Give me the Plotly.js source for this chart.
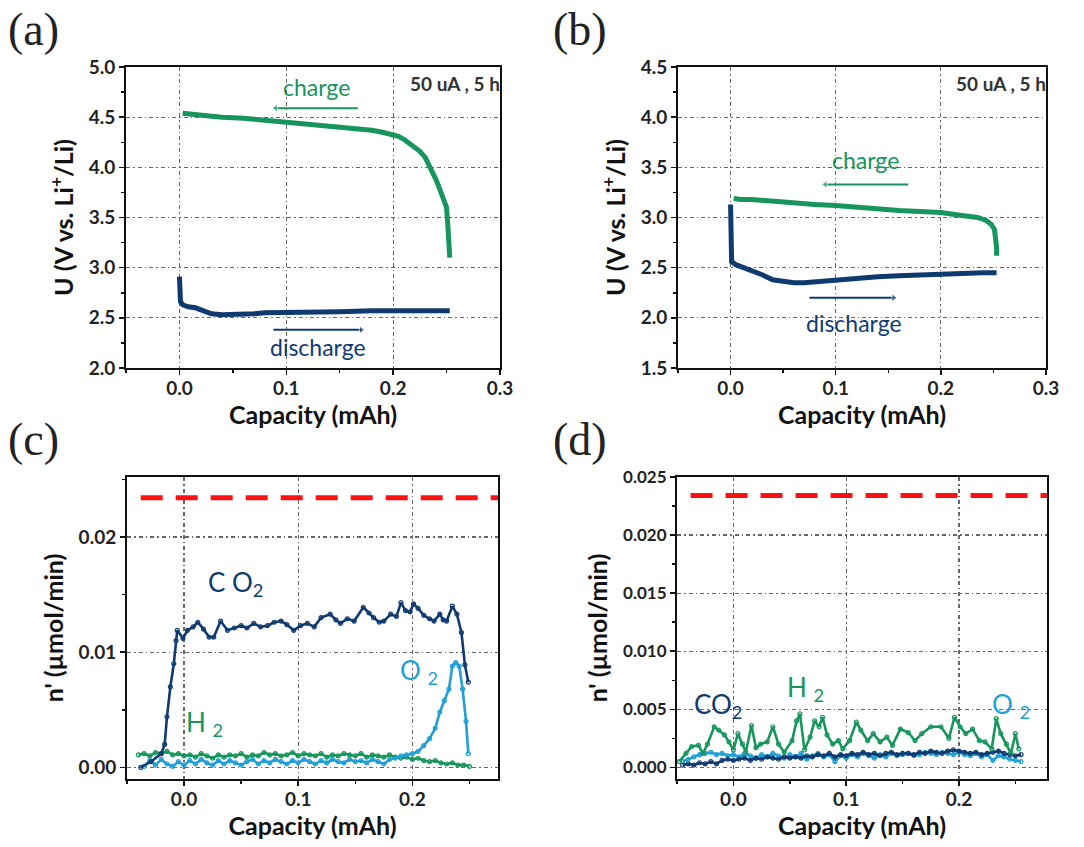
<!DOCTYPE html>
<html>
<head>
<meta charset="utf-8">
<script src="https://cdn.plot.ly/plotly-3.0.1.min.js"></script>
<style>body{margin:0;background:#fff}#chart{width:1084px;height:847px}</style>
</head>
<body>
<div id="chart"></div>
<script>
// ---------- Panel (a): 50 uA, 5 h ----------
const a_chg_x = [0.003,0.01,0.02,0.03,0.04,0.05,0.06,0.07,0.08,0.09,0.10,0.11,0.12,0.13,0.14,0.15,0.16,0.17,0.18,0.19,0.20,0.205,0.21,0.215,0.22,0.225,0.23,0.235,0.24,0.243,0.246,0.248,0.250,0.251,0.252,0.253];
const a_chg_y = [4.54,4.53,4.52,4.51,4.50,4.50,4.49,4.48,4.47,4.47,4.46,4.45,4.44,4.43,4.42,4.41,4.40,4.39,4.37,4.35,4.33,4.31,4.28,4.24,4.20,4.16,4.10,4.00,3.88,3.80,3.72,3.66,3.60,3.45,3.30,3.10];
const a_dis_x = [0.0,0.0,0.001,0.003,0.008,0.015,0.02,0.025,0.03,0.04,0.05,0.06,0.07,0.08,0.10,0.12,0.15,0.18,0.20,0.22,0.24,0.253];
const a_dis_y = [2.91,2.75,2.66,2.63,2.61,2.60,2.58,2.56,2.54,2.53,2.53,2.53,2.54,2.55,2.55,2.56,2.56,2.57,2.57,2.57,2.57,2.57];
const a_chg_arrow_x = [0.090,0.167];
const a_chg_arrow_y = [4.59,4.59];
const a_dis_arrow_x = [0.088,0.170];
const a_dis_arrow_y = [2.38,2.38];

// ---------- Panel (b) ----------
const b_chg_x = [0.003,0.01,0.02,0.04,0.06,0.08,0.10,0.12,0.14,0.16,0.18,0.20,0.22,0.235,0.243,0.248,0.251,0.252,0.253,0.253];
const b_chg_y = [3.19,3.18,3.18,3.16,3.15,3.13,3.12,3.10,3.09,3.07,3.06,3.05,3.02,3.00,2.97,2.93,2.88,2.80,2.70,2.62];
const b_dis_x = [0.0,0.0,0.001,0.005,0.01,0.02,0.03,0.04,0.05,0.06,0.07,0.08,0.09,0.10,0.12,0.14,0.16,0.18,0.20,0.22,0.24,0.253];
const b_dis_y = [3.13,2.80,2.56,2.53,2.51,2.48,2.43,2.38,2.36,2.35,2.35,2.36,2.37,2.38,2.39,2.41,2.42,2.43,2.44,2.44,2.45,2.45];
const b_chg_arrow_x = [0.090,0.169];
const b_chg_arrow_y = [3.33,3.33];
const b_dis_arrow_x = [0.075,0.155];
const b_dis_arrow_y = [2.20,2.20];

// ---------- Panel (c): gas evolution rates ----------
const c_co2_x = [-0.038,-0.029,-0.020,-0.017,-0.015,-0.012,-0.009,-0.007,-0.006,-0.001,0.003,0.008,0.012,0.017,0.022,0.026,0.032,0.038,0.044,0.050,0.055,0.061,0.067,0.073,0.079,0.085,0.090,0.096,0.102,0.108,0.114,0.120,0.128,0.133,0.137,0.143,0.149,0.157,0.162,0.166,0.171,0.175,0.181,0.186,0.190,0.194,0.198,0.201,0.205,0.210,0.215,0.219,0.224,0.227,0.230,0.235,0.239,0.243,0.246,0.249];
const c_co2_y = [0.0000,0.0005,0.0012,0.0020,0.0044,0.0070,0.0090,0.0110,0.0119,0.0112,0.0119,0.0122,0.0126,0.0120,0.0113,0.0113,0.0127,0.0119,0.0121,0.0123,0.0121,0.0125,0.0122,0.0123,0.0126,0.0127,0.0124,0.0119,0.0123,0.0125,0.0122,0.0130,0.0133,0.0128,0.0125,0.0129,0.0127,0.0139,0.0134,0.0130,0.0126,0.0127,0.0133,0.0131,0.0143,0.0136,0.0135,0.0142,0.0138,0.0132,0.0129,0.0127,0.0133,0.0128,0.0127,0.0140,0.0133,0.0117,0.0089,0.0074];
const c_o2_x = [-0.035,-0.030,-0.025,-0.020,-0.015,-0.010,-0.005,0.000,0.005,0.010,
                0.015,0.020,0.025,0.030,0.035,0.040,0.045,0.050,0.055,0.060,
                0.065,0.070,0.075,0.080,0.085,0.090,0.095,0.100,0.105,0.110,
                0.115,0.120,0.125,0.130,0.135,0.140,0.145,0.150,0.155,0.160,
                0.165,0.170,0.175,0.180,0.185,0.190,0.195,0.200,0.205,0.210,
                0.215,0.220,0.224,0.228,0.232,0.235,0.238,0.241,0.244,0.247,0.249];
const c_o2_y = [0.0001,0.0006,0.0002,0.0007,0.0003,0.0001,0.0005,0.0002,0.0006,0.0003,
                0.0007,0.0004,0.0002,0.0006,0.0003,0.0006,0.0004,0.0002,0.0005,0.0007,
                0.0003,0.0006,0.0004,0.0007,0.0005,0.0003,0.0006,0.0004,0.0007,0.0005,
                0.0003,0.0006,0.0004,0.0007,0.0005,0.0004,0.0007,0.0005,0.0006,0.0004,
                0.0007,0.0005,0.0003,0.0007,0.0008,0.0010,0.0011,0.0012,0.0014,0.0019,
                0.0025,0.0034,0.0048,0.0058,0.0068,0.0088,0.0091,0.0088,0.0068,0.0040,0.0012];
const c_h2_x = [-0.040,-0.035,-0.030,-0.025,-0.020,-0.015,-0.010,-0.005,0.000,0.005,
                0.010,0.015,0.020,0.025,0.030,0.035,0.040,0.045,0.050,0.055,
                0.060,0.065,0.070,0.075,0.080,0.085,0.090,0.095,0.100,0.105,
                0.110,0.115,0.120,0.125,0.130,0.135,0.140,0.145,0.150,0.155,
                0.160,0.165,0.170,0.175,0.180,0.185,0.190,0.195,0.200,0.205,
                0.210,0.215,0.220,0.225,0.230,0.235,0.240,0.245,0.250];
const c_h2_y = [0.0011,0.0012,0.0010,0.0013,0.0012,0.0014,0.0011,0.0012,0.0010,0.0011,
                0.0009,0.0012,0.0010,0.0008,0.0011,0.0009,0.0011,0.0010,0.0012,0.0009,
                0.0011,0.0010,0.0013,0.0011,0.0012,0.0010,0.0011,0.0013,0.0010,0.0012,
                0.0011,0.0010,0.0012,0.0009,0.0011,0.0010,0.0012,0.0011,0.0010,0.0012,
                0.0009,0.0011,0.0010,0.0009,0.0011,0.0009,0.0008,0.0009,0.0007,0.0008,
                0.0006,0.0005,0.0006,0.0004,0.0003,0.0004,0.0002,0.0002,0.0001];

// ---------- Panel (d) ----------
const d_cap = [-0.045,-0.040,-0.035,-0.030,-0.025,-0.020,-0.015,-0.010,-0.005,0.000,
               0.005,0.010,0.015,0.020,0.025,0.030,0.035,0.040,0.045,0.050,
               0.055,0.060,0.065,0.070,0.075,0.080,0.085,0.090,0.095,0.100,
               0.105,0.110,0.115,0.120,0.125,0.130,0.135,0.140,0.145,0.150,
               0.155,0.160,0.165,0.170,0.175,0.180,0.185,0.190,0.195,0.200,
               0.205,0.210,0.215,0.220,0.225,0.230,0.235,0.240,0.245,0.250,0.255];
const d_co2_y = [0.0002,0.0003,0.0002,0.0004,0.0003,0.0005,0.0003,0.0006,0.0007,0.0006,
                 0.0007,0.0008,0.0006,0.0008,0.0007,0.0009,0.0008,0.0007,0.0009,0.0008,
                 0.0009,0.0008,0.0010,0.0009,0.0011,0.0010,0.0012,0.0009,0.0011,0.0010,
                 0.0012,0.0011,0.0013,0.0011,0.0012,0.0010,0.0012,0.0013,0.0011,0.0012,
                 0.0012,0.0011,0.0013,0.0012,0.0014,0.0013,0.0012,0.0014,0.0015,0.0014,
                 0.0013,0.0012,0.0013,0.0011,0.0012,0.0013,0.0014,0.0012,0.0011,0.0010,0.0011];
const d_o2_y = [0.0005,0.0007,0.0009,0.0011,0.0012,0.0013,0.0011,0.0012,0.0010,0.0011,
                0.0009,0.0012,0.0010,0.0008,0.0011,0.0009,0.0012,0.0010,0.0008,0.0011,
                0.0009,0.0012,0.0007,0.0010,0.0012,0.0009,0.0011,0.0005,0.0010,0.0008,
                0.0011,0.0009,0.0012,0.0010,0.0008,0.0011,0.0009,0.0012,0.0010,0.0011,
                0.0012,0.0010,0.0011,0.0013,0.0012,0.0011,0.0013,0.0012,0.0011,0.0013,
                0.0011,0.0010,0.0012,0.0009,0.0011,0.0006,0.0010,0.0009,0.0007,0.0006,0.0005];
const d_h2_x = [-0.048,-0.042,-0.037,-0.031,-0.027,-0.023,-0.017,-0.013,-0.008,-0.004,
                0.000,0.004,0.008,0.011,0.016,0.020,0.024,0.030,0.035,0.040,
                0.045,0.052,0.056,0.059,0.063,0.068,0.072,0.076,0.079,0.083,
                0.088,0.093,0.097,0.103,0.109,0.113,0.119,0.124,0.130,0.136,
                0.141,0.148,0.155,0.161,0.167,0.175,0.184,0.191,0.196,0.201,
                0.206,0.212,0.218,0.223,0.229,0.233,0.237,0.242,0.246,0.250,0.253];
const d_h2_y = [0.0005,0.0012,0.0018,0.0019,0.0012,0.0020,0.0035,0.0032,0.0028,0.0022,
                0.0015,0.0029,0.0020,0.0013,0.0036,0.0017,0.0020,0.0022,0.0035,0.0020,
                0.0013,0.0023,0.0040,0.0046,0.0015,0.0026,0.0040,0.0035,0.0043,0.0028,
                0.0020,0.0023,0.0016,0.0023,0.0039,0.0032,0.0023,0.0029,0.0022,0.0026,
                0.0019,0.0033,0.0030,0.0023,0.0029,0.0035,0.0035,0.0025,0.0043,0.0035,
                0.0029,0.0033,0.0023,0.0022,0.0016,0.0042,0.0029,0.0020,0.0012,0.0029,0.0016];

// Reference line (red dashed) in (c) and (d)
const ref_x = [-0.038,0.28];
const ref_y = [0.0234,0.0234];

const GREEN = '#16955c', NAVY = '#0e3a70', SKY = '#1f9fd6', RED = '#ff1010';
const FAM = 'Lato, "Open Sans", sans-serif';
const tickFont = (s)=>({family:FAM, size:s, color:'#222', weight:'bold'});
const titleFont = {family:FAM, size:25, color:'#111', weight:'bold'};

function curve(x, y, color, xa, ya, w) {
  return {x:x, y:y, xaxis:xa, yaxis:ya, type:'scatter', mode:'lines',
          line:{color:color, width:w||5}, hoverinfo:'skip', showlegend:false};
}
function gas(x, y, color, xa, ya) {
  return {x:x, y:y, xaxis:xa, yaxis:ya, type:'scatter', mode:'lines+markers',
          line:{color:color, width:2.6}, marker:{symbol:'circle-open', size:4, color:color, line:{width:1.2}},
          hoverinfo:'skip', showlegend:false};
}
function arrow(x, y, color, xa, ya, endIdx, sym) {
  const sizes = x.map((v,i)=> i===endIdx ? 7 : 0);
  return {x:x, y:y, xaxis:xa, yaxis:ya, type:'scatter', mode:'lines+markers',
          line:{color:color, width:2}, marker:{symbol:sym, size:sizes, color:color},
          hoverinfo:'skip', showlegend:false};
}
function refline(xa, ya) {
  return {x:ref_x, y:ref_y, xaxis:xa, yaxis:ya, type:'scatter', mode:'lines',
          line:{color:RED, width:5, dash:'22px,13px'}, hoverinfo:'skip', showlegend:false};
}

const data = [
  curve(a_chg_x, a_chg_y, GREEN, 'x', 'y'),
  curve(a_dis_x, a_dis_y, NAVY, 'x', 'y'),
  arrow(a_chg_arrow_x, a_chg_arrow_y, GREEN, 'x', 'y', 0, 'triangle-left'),
  arrow(a_dis_arrow_x, a_dis_arrow_y, NAVY, 'x', 'y', 1, 'triangle-right'),

  curve(b_chg_x, b_chg_y, GREEN, 'x2', 'y2'),
  curve(b_dis_x, b_dis_y, NAVY, 'x2', 'y2'),
  arrow(b_chg_arrow_x, b_chg_arrow_y, GREEN, 'x2', 'y2', 0, 'triangle-left'),
  arrow(b_dis_arrow_x, b_dis_arrow_y, NAVY, 'x2', 'y2', 1, 'triangle-right'),

  refline('x3', 'y3'),
  gas(c_h2_x, c_h2_y, GREEN, 'x3', 'y3'),
  gas(c_o2_x, c_o2_y, SKY, 'x3', 'y3'),
  gas(c_co2_x, c_co2_y, NAVY, 'x3', 'y3'),

  refline('x4', 'y4'),
  gas(d_cap, d_o2_y, SKY, 'x4', 'y4'),
  gas(d_cap, d_co2_y, NAVY, 'x4', 'y4'),
  gas(d_h2_x, d_h2_y, GREEN, 'x4', 'y4')
];

const GRID = {showgrid:true, gridcolor:'#666', gridwidth:1.2, griddash:'4px,3px,1.5px,3px'};

function xax(domain, range, anchor) {
  return Object.assign({domain:domain, range:range, anchor:anchor, dtick:0.1, tick0:0, tickformat:'.1f',
    showline:true, linecolor:'#111', linewidth:2, mirror:true,
    ticks:'outside', ticklen:5, tickwidth:1.5, tickcolor:'#111', ticklabelstandoff:-3,
    minor:{dtick:0.05, ticks:'outside', ticklen:3, tickcolor:'#111', showgrid:false},
    zeroline:false, tickfont:tickFont(19),
    title:{text:'Capacity (mAh)', font:titleFont, standoff:0}}, GRID);
}
function yax(domain, range, anchor, dtick, minor, fmt, title, ts) {
  return Object.assign({domain:domain, range:range, anchor:anchor, dtick:dtick, tick0:0, tickformat:fmt,
    showline:true, linecolor:'#111', linewidth:2, mirror:true,
    ticks:'outside', ticklen:5, tickwidth:1.5, tickcolor:'#111',
    minor:{dtick:minor, ticks:'outside', ticklen:3, tickcolor:'#111', showgrid:false},
    zeroline:false, tickfont:tickFont(ts),
    title:{text:title, font:titleFont, standoff:8}}, GRID);
}

const W = 1084, H = 847;
const px = (a,b)=>[a/W, b/W];
const py = (top,bot)=>[1-bot/H, 1-top/H];

const panelFont = {family:'"Liberation Serif", "DejaVu Serif", serif', size:46, color:'#222'};
const noteFont = {family:FAM, size:19, color:'#333', weight:'bold'};
const lblFont = (c,s)=>({family:FAM, size:s||23, color:c});

const annotations = [
  {text:'(a)', xref:'paper', yref:'paper', x:6/W, y:1-2/H, xanchor:'left', yanchor:'top', showarrow:false, font:panelFont},
  {text:'(b)', xref:'paper', yref:'paper', x:551/W, y:1-2/H, xanchor:'left', yanchor:'top', showarrow:false, font:panelFont},
  {text:'(c)', xref:'paper', yref:'paper', x:6/W, y:1-412/H, xanchor:'left', yanchor:'top', showarrow:false, font:panelFont},
  {text:'(d)', xref:'paper', yref:'paper', x:551/W, y:1-412/H, xanchor:'left', yanchor:'top', showarrow:false, font:panelFont},

  {text:'50 uA , 5 h', xref:'x domain', yref:'y domain', x:1.005, y:0.99, xanchor:'right', yanchor:'top', showarrow:false, font:noteFont},
  {text:'50 uA , 5 h', xref:'x2 domain', yref:'y2 domain', x:1.005, y:0.99, xanchor:'right', yanchor:'top', showarrow:false, font:noteFont},

  {text:'charge', xref:'x', yref:'y', x:0.128, y:4.80, showarrow:false, font:lblFont(GREEN)},
  {text:'discharge', xref:'x', yref:'y', x:0.13, y:2.21, showarrow:false, font:lblFont(NAVY)},
  {text:'charge', xref:'x2', yref:'y2', x:0.128, y:3.57, showarrow:false, font:lblFont(GREEN)},
  {text:'discharge', xref:'x2', yref:'y2', x:0.117, y:1.95, showarrow:false, font:lblFont(NAVY)},

  {text:'C O<sub>2</sub>', xref:'x3', yref:'y3', x:0.045, y:0.0160, showarrow:false, font:lblFont(NAVY,26)},
  {text:'O <sub>2</sub>', xref:'x3', yref:'y3', x:0.206, y:0.0083, showarrow:false, font:lblFont(SKY,26)},
  {text:'H <sub>2</sub>', xref:'x3', yref:'y3', x:0.018, y:0.0038, showarrow:false, font:lblFont(GREEN,26)},

  {text:'CO<sub>2</sub>', xref:'x4', yref:'y4', x:-0.014, y:0.0053, showarrow:false, font:lblFont(NAVY,26)},
  {text:'H <sub>2</sub>', xref:'x4', yref:'y4', x:0.064, y:0.0068, showarrow:false, font:lblFont(GREEN,26)},
  {text:'O <sub>2</sub>', xref:'x4', yref:'y4', x:0.246, y:0.0053, showarrow:false, font:lblFont(SKY,26)}
];

const layout = {
  width:W, height:H, margin:{l:0,r:0,t:0,b:0},
  paper_bgcolor:'#fff', plot_bgcolor:'#fff', showlegend:false,
  xaxis:  xax(px(126,500), [-0.05,0.3], 'y'),
  yaxis:  yax(py(67,368), [2,5], 'x', 0.5, 0.25, '.1f', 'U (V vs. Li<sup>+</sup>/Li)', 19),
  xaxis2: xax(px(678,1046), [-0.05,0.3], 'y2'),
  yaxis2: yax(py(67,368), [1.5,4.5], 'x2', 0.5, 0.25, '.1f', 'U (V vs. Li<sup>+</sup>/Li)', 19),
  xaxis3: xax(px(127,498), [-0.05,0.275], 'y3'),
  yaxis3: yax(py(477,779), [-0.001,0.0252], 'x3', 0.01, 0.005, '.2f', "n' (µmol/min)", 19),
  xaxis4: xax(px(677,1047), [-0.05,0.278], 'y4'),
  yaxis4: yax(py(477,779), [-0.001,0.025], 'x4', 0.005, 0.0025, '.3f', "n' (µmol/min)", 17),
  annotations:annotations
};

Plotly.newPlot('chart', data, layout, {displayModeBar:false, staticPlot:true});
</script>
</body>
</html>
